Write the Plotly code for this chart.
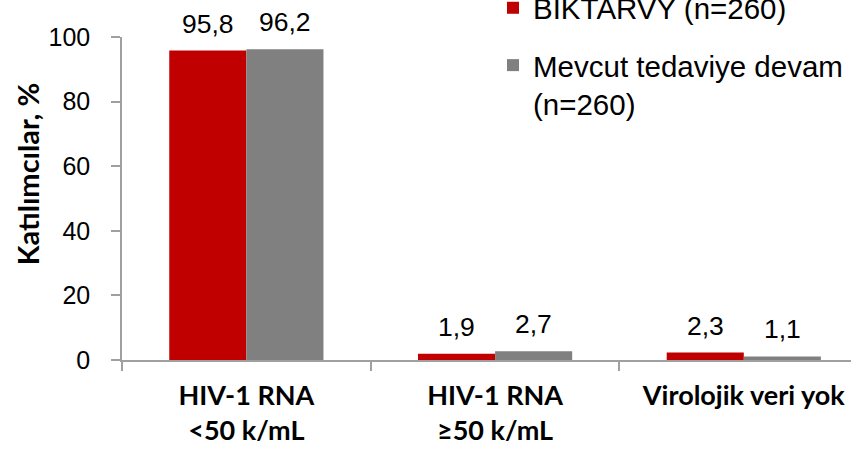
import plotly.graph_objects as go

# Virologic outcome categories at the analysis visit
categories = ["HIV-1 RNA<br>&lt;50 k/mL", "HIV-1 RNA<br>≥50 k/mL", "Virolojik veri yok"]
series_names = ["BIKTARVY (n=260)", "Mevcut tedaviye devam<br>(n=260)"]
biktarvy = [95.8, 1.9, 2.3]
mevcut = [96.2, 2.7, 1.1]
y_ticks = [0, 20, 40, 60, 80, 100]

RED = "#C00000"
GRAY = "#808080"
AXIS = "#A0A0A0"
BAR_GAP = 0.38
NUM_FONT = "Liberation Sans, Arial, sans-serif"
BOLD_FONT = "Lato, Calibri, sans-serif"

fig = go.Figure()
for name, vals, col, grp in [(series_names[0], biktarvy, RED, "a"),
                             (series_names[1], mevcut, GRAY, "b")]:
    fig.add_trace(go.Bar(x=categories, y=vals, name=name, marker_color=col,
                         marker_line_width=0, legendgroup=grp))

# value labels above each bar, decimal comma
half = (1 - BAR_GAP) / 4
for vals, side in [(biktarvy, -1), (mevcut, 1)]:
    for i, v in enumerate(vals):
        fig.add_annotation(x=i + side * half, y=v, xref="x", yref="y",
                           text=f"{v:.1f}".replace(".", ","), showarrow=False,
                           yanchor="bottom", yshift=10,
                           font=dict(family=NUM_FONT, size=26.5, color="black"))

# y-axis title, set slightly above the plot's vertical centre
fig.add_annotation(x=-95 / 729, y=0.575, xref="paper", yref="paper",
                   text="<b>Katılımcılar, %</b>", textangle=-90, showarrow=False,
                   xanchor="center", yanchor="middle",
                   font=dict(family=BOLD_FONT, size=29, color="black"))

fig.update_layout(
    width=851, height=449,
    margin=dict(l=122, r=0, t=37, b=89, autoexpand=False),
    paper_bgcolor="white", plot_bgcolor="white",
    barmode="group", bargap=BAR_GAP, bargroupgap=0,
    showlegend=True,
    legend=dict(x=(493 - 122) / 729, xref="paper", y=1.17, yanchor="top",
                xanchor="left", valign="top", tracegroupgap=16,
                font=dict(family=NUM_FONT, size=29.5, color="black"),
                bgcolor="rgba(0,0,0,0)"),
    xaxis=dict(type="category", range=[-0.5, 2.431], showline=True,
               linecolor=AXIS, linewidth=1.5, ticks="outside", tickson="boundaries",
               ticklen=9, tickcolor=AXIS, tickwidth=1.5, showgrid=False,
               ticklabelstandoff=11,
               tickfont=dict(family=BOLD_FONT, size=27, color="black", weight="bold")),
    yaxis=dict(range=[0, 100], tickvals=y_ticks, showline=True, linecolor=AXIS,
               linewidth=1.5, ticks="outside", ticklen=9, tickcolor=AXIS,
               tickwidth=1.5, showgrid=False, zeroline=False,
               ticklabelstandoff=16,
               tickfont=dict(family=NUM_FONT, size=25, color="black")),
)

fig.write_html("out.html")
